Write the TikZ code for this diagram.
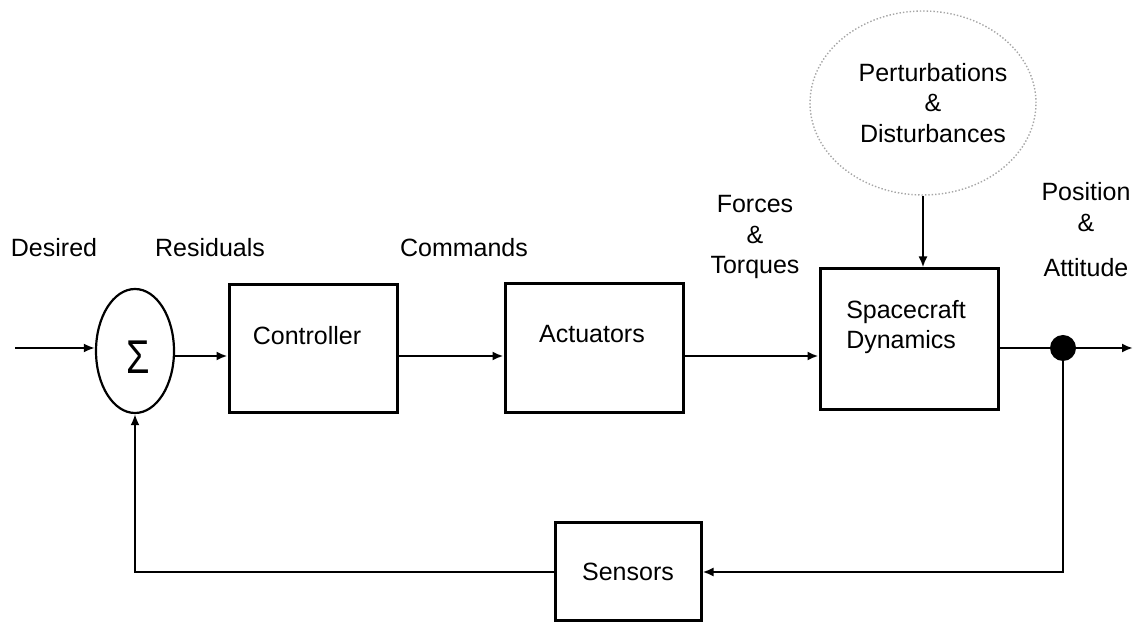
\documentclass[tikz,border=0pt]{standalone}
\usepackage{fontspec}
\setmainfont{Liberation Sans}
\usetikzlibrary{arrows.meta,shapes.geometric}

\begin{document}
\begin{tikzpicture}[x=0.5pt,y=-0.5pt,
  every node/.style={font=\fontsize{12.5}{15.25}\selectfont},
  block/.style={draw, rectangle, line width=1.5pt, inner sep=0pt},
  lbl/.style={inner sep=0pt, align=center},
  flow/.style={line width=1.4pt, -{Latex[length=5.5pt,width=4.5pt]}},
  wire/.style={line width=1.4pt}
]
\useasboundingbox (0,0) rectangle (1136,624);

% signal levels
\coordinate (fwd) at (0,356);
\coordinate (in) at (15,348);
\coordinate (out) at (1133,348);

% summing junction
\node[draw, ellipse, line width=1.1pt, minimum width=39pt, minimum height=62pt, inner sep=0pt]
  (sum) at (135,351) {};
\node[inner sep=0pt] (sigma) at (138,357)
  {\scalebox{0.8}[1]{\fontsize{23.7}{24}\selectfont Σ}};

% forward path blocks
\node[block, minimum width=84pt, minimum height=64pt] (ctrl) at (313,349) {};
\node[lbl] (ctrltxt) at (307,336) {Controller};

\node[block, minimum width=89pt, minimum height=64.5pt] (act) at (594,348.5) {};
\node[lbl] (acttxt) at (592,334) {Actuators};

\node[block, minimum width=89pt, minimum height=70.5pt] (sd) at (909,339.5) {};
\node[lbl, align=left] (sdtxt) at (906,327) {Spacecraft\\Dynamics};

% feedback block
\node[block, minimum width=73pt, minimum height=49pt] (sens) at (628,572) {Sensors};

% disturbance source
\node[draw=gray!70, densely dotted, line width=0.7pt, ellipse, inner sep=0pt,
  minimum width=113pt, minimum height=92pt] (pert) at (923,103) {};
\node[lbl] (perttxt) at (933,103) {Perturbations\\\&\\Disturbances};

% take-off point
\node[circle, fill, inner sep=0pt, minimum size=13pt] (dot) at (1063,348) {};

% signal labels
\node[lbl] (desired) at (54,248) {Desired};
\node[lbl] (resid) at (210,248) {Residuals};
\node[lbl] (cmds) at (464,248) {Commands};
\node[lbl] (ft) at (755,237) {Forces\\\&\\Torques};
\node[lbl] (pa) at (1086,230) {Position\\\&\\[7.5pt]Attitude};

% connectors
\draw[flow] (in) -- (in -| sum.west);
\draw[flow] (sum.east |- fwd) -- (ctrl.west |- fwd);
\draw[flow] (ctrl.east |- fwd) -- (act.west |- fwd);
\draw[flow] (act.east |- fwd) -- (sd.west |- fwd);
\draw[wire] (sd.east |- dot) -- (dot);
\draw[flow] (dot) -- (out);
\draw[flow] (dot.center) |- (sens.east);
\draw[flow] (sens.west) -| (sum.south);
\draw[flow] (pert.south) -- (pert.south |- sd.north);
\end{tikzpicture}
\end{document}
